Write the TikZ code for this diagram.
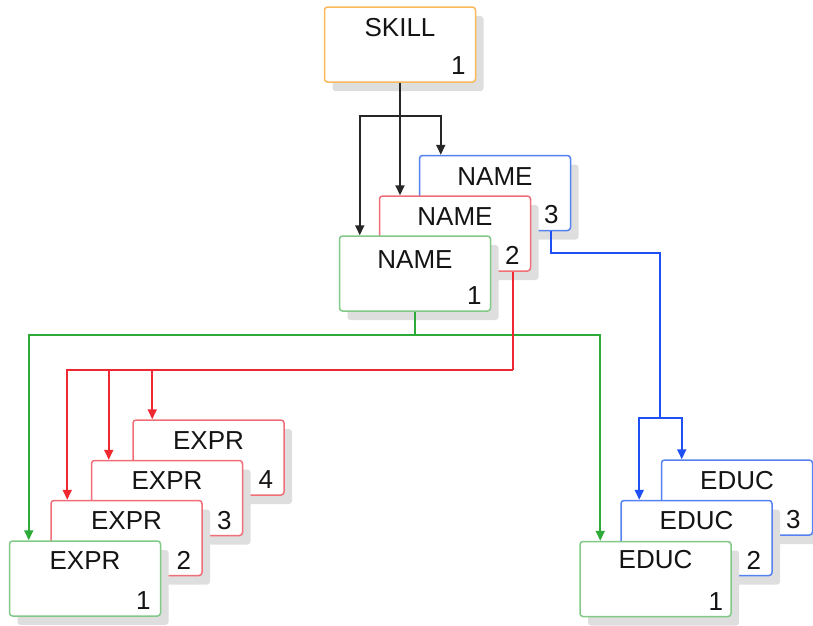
\documentclass[tikz,border=0pt]{standalone}
\usepackage{fontspec}
\setmainfont{Liberation Sans}
\usetikzlibrary{arrows.meta,calc,shadows}
\definecolor{cOrange}{RGB}{250,185,90}
\definecolor{cGreenBox}{RGB}{130,200,135}
\definecolor{cGreenArr}{RGB}{45,170,55}
\definecolor{cRedBox}{RGB}{240,110,120}
\definecolor{cRedArr}{RGB}{240,40,50}
\definecolor{cBlueBox}{RGB}{85,130,240}
\definecolor{cBlueArr}{RGB}{30,80,245}
\definecolor{cText}{RGB}{20,20,20}
\begin{document}
\begin{tikzpicture}[x=1pt,y=-1pt,
  box/.style={draw,rounded corners=3pt,fill=white,minimum width=151pt,minimum height=75pt,
    line width=1.5pt,inner sep=0pt,
    drop shadow={shadow xshift=8pt,shadow yshift=-9pt,fill=black!13,opacity=1}},
  ttl/.style={font=\fontsize{26}{30}\selectfont,inner sep=0pt,text=cText},
  num/.style={font=\fontsize{26}{30}\selectfont,inner sep=0pt,text=cText},
  con/.style={line width=1.8pt,-{Triangle[length=10pt,width=9pt]}},
  wire/.style={line width=1.8pt}]
\useasboundingbox (0,0) rectangle (813,625);

% ---------- SKILL ----------
\node[box,draw=cOrange] (skill) at (400,44.5) {};
\node[ttl] (skillT) at ($(skill.north)+(0,21)$) {SKILL};
\node[num] (skillN) at ($(skill.south east)+(-18,-17)$) {1};

% ---------- NAME stack ----------
\node[box,draw=cBlueBox] (n3) at (495,193) {};
\node[ttl] (n3T) at ($(n3.north)+(0,22)$) {NAME};
\node[num] (n3N) at ($(n3.south east)+(-20,-17)$) {3};

\node[box,draw=cRedBox] (n2) at (455,233.5) {};
\node[ttl] (n2T) at ($(n2.north)+(0,21)$) {NAME};
\node[num] (n2N) at ($(n2.south east)+(-19,-16)$) {2};

\node[box,draw=cGreenBox] (n1) at (415,273.5) {};
\node[ttl] (n1T) at ($(n1.north)+(0,24)$) {NAME};
\node[num] (n1N) at ($(n1.south east)+(-17,-16)$) {1};

% ---------- EXPR stack ----------
\node[box,draw=cRedBox] (e4) at (208.5,457.5) {};
\node[ttl] (e4T) at ($(e4.north)+(0,21)$) {EXPR};
\node[num] (e4N) at ($(e4.south east)+(-19,-16)$) {4};

\node[box,draw=cRedBox] (e3) at (167,498) {};
\node[ttl] (e3T) at ($(e3.north)+(0,21)$) {EXPR};
\node[num] (e3N) at ($(e3.south east)+(-19,-16)$) {3};

\node[box,draw=cRedBox] (e2) at (126.5,538) {};
\node[ttl] (e2T) at ($(e2.north)+(0,21)$) {EXPR};
\node[num] (e2N) at ($(e2.south east)+(-19,-16)$) {2};

\node[box,draw=cGreenBox] (e1) at (85,578.5) {};
\node[ttl] (e1T) at ($(e1.north)+(0,20)$) {EXPR};
\node[num] (e1N) at ($(e1.south east)+(-18,-16)$) {1};

% ---------- EDUC stack ----------
\node[box,draw=cBlueBox] (d3) at (737,497.5) {};
\node[ttl] (d3T) at ($(d3.north)+(0,21)$) {EDUC};
\node[num] (d3N) at ($(d3.south east)+(-20,-16)$) {3};

\node[box,draw=cBlueBox] (d2) at (696.5,538) {};
\node[ttl] (d2T) at ($(d2.north)+(0,21)$) {EDUC};
\node[num] (d2N) at ($(d2.south east)+(-19,-16)$) {2};

\node[box,draw=cGreenBox] (d1) at (655.5,579) {};
\node[ttl] (d1T) at ($(d1.north)+(0,19)$) {EDUC};
\node[num] (d1N) at ($(d1.south east)+(-16,-16)$) {1};

% ---------- connector points ----------
\coordinate (n1in) at ($(n1.north west)+(21,0)$);
\coordinate (n3in) at ($(n3.north west)+(22,0)$);
\coordinate (jSk) at ($(skill.south)+(0,33)$);

\coordinate (jG) at ($(n1.south)+(0,23)$);
\coordinate (e1in) at ($(e1.north west)+(20,0)$);
\coordinate (d1in) at ($(d1.north west)+(21,0)$);

\coordinate (n2out) at ($(n2.south east)+(-18,0)$);
\coordinate (jR) at ($(n2out)+(0,98)$);
\coordinate (e2in) at ($(e2.north west)+(17,0)$);
\coordinate (e3in) at ($(e3.north west)+(18,0)$);
\coordinate (e4in) at ($(e4.north west)+(20,0)$);

\coordinate (n3out) at ($(n3.south east)+(-20,0)$);
\coordinate (jB1) at ($(n3out)+(109,22)$);
\coordinate (jB) at (jB1 |- 0,418);
\coordinate (d2in) at ($(d2.north west)+(19,0)$);
\coordinate (d3in) at ($(d3.north west)+(21,0)$);

% ---------- connectors ----------
\draw[con,black!85] (skill.south) -- (skill.south |- n2.north);
\draw[con,black!85] (jSk) -| (n1in);
\draw[con,black!85] (jSk) -| (n3in);

\draw[wire,cGreenArr] (n1.south) -- (jG);
\draw[con,cGreenArr] (jG) -| (e1in);
\draw[con,cGreenArr] (jG) -| (d1in);

\draw[wire,cRedArr] (n2out) -- (jR);
\draw[con,cRedArr] (jR) -| (e2in);
\draw[con,cRedArr] (jR -| e3in) -- (e3in);
\draw[con,cRedArr] (jR -| e4in) -- (e4in);

\draw[wire,cBlueArr] (n3out) |- (jB1) -- (jB);
\draw[con,cBlueArr] (jB) -| (d2in);
\draw[con,cBlueArr] (jB) -| (d3in);
\end{tikzpicture}
\end{document}
